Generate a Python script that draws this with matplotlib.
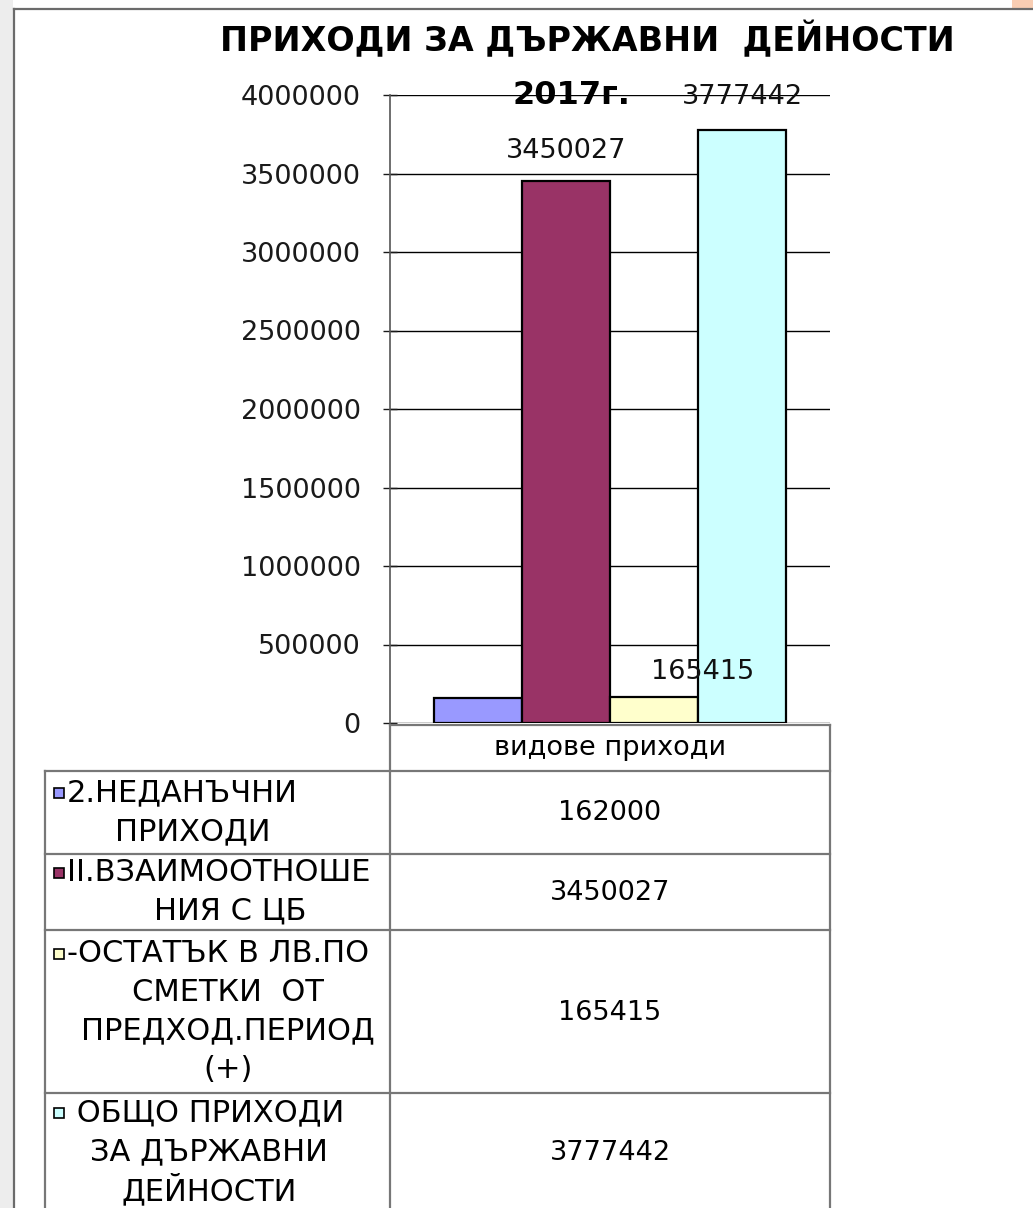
import matplotlib.pyplot as plt
from matplotlib.patches import Rectangle
from matplotlib.lines import Line2D

plt.rcParams['font.family'] = ['DejaVu Sans']

# data
category = 'видове приходи'
series_names = ['2.НЕДАНЪЧНИ\nПРИХОДИ',
                'II.ВЗАИМООТНОШЕ\nНИЯ С ЦБ',
                '-ОСТАТЪК В ЛВ.ПО\nСМЕТКИ  ОТ\nПРЕДХОД.ПЕРИОД\n(+)',
                ' ОБЩО ПРИХОДИ\nЗА ДЪРЖАВНИ\nДЕЙНОСТИ']
values = [162000, 3450027, 165415, 3777442]
colors = ['#9999FF', '#993366', '#FFFFCC', '#CCFFFF']
yticks = [0, 500000, 1000000, 1500000, 2000000, 2500000, 3000000, 3500000, 4000000]
title = 'ПРИХОДИ ЗА ДЪРЖАВНИ  ДЕЙНОСТИ'
subtitle = '2017г.'

W, H = 1033, 1208
fig = plt.figure(figsize=(W / 100, H / 100), dpi=100)


def fx(x):
    return x / W


def fy(y):
    return 1 - y / H


# slide background bits
fig.add_artist(Rectangle((0, 0), fx(13), 1, transform=fig.transFigure,
                         color='#ededed', lw=0))
fig.add_artist(Rectangle((fx(1012), fy(8)), fx(21), 8 / H, transform=fig.transFigure,
                         color='#f8cdb3', lw=0))
fig.add_artist(Line2D([fx(14), fx(14)], [0, fy(9)], transform=fig.transFigure,
                      color='#6b6b6b', lw=1.6))
fig.add_artist(Line2D([fx(14), 1], [fy(9), fy(9)], transform=fig.transFigure,
                      color='#6b6b6b', lw=1.6))

# chart
ax = fig.add_axes([fx(390), fy(723), fx(830) - fx(390), (723 - 95) / H])
n = len(values)
bw = 0.2
xs = [(i - (n - 1) / 2) * bw for i in range(n)]
ax.bar(xs, values, width=bw, color=colors, edgecolor='black', linewidth=1.6, zorder=3)
ax.set_xlim(-0.5, 0.5)
ax.set_ylim(0, 4000000)
ax.set_yticks(yticks)
ax.set_yticklabels([str(v) for v in yticks], fontsize=19.5)
ax.set_xticks([])
ax.yaxis.grid(True, color='black', lw=1.0, zorder=0)
ax.tick_params(axis='y', direction='inout', length=10, width=1.0, pad=16, colors='#1a1a1a')
for s in ['top', 'right', 'bottom']:
    ax.spines[s].set_visible(False)
ax.spines['left'].set_color('#555555')
ax.spines['left'].set_linewidth(1.2)

# data labels (the first one is hidden in the original)
offsets = {1: (0, 22), 2: (35, 18), 3: (0, 24)}
for i, (dx, dy) in offsets.items():
    ax.annotate(str(values[i]), (xs[i], values[i]), xytext=(dx, dy),
                textcoords='offset points', ha='center', va='center',
                fontsize=19.5, color='#111111', zorder=5, annotation_clip=False)

fig.text(fx(587), fy(40), title, ha='center', va='center', fontsize=24,
         fontweight='bold')
fig.text(fx(571), fy(96), subtitle, ha='center', va='center', fontsize=23,
         fontweight='bold')

# data table
grid_col = '#777777'
row_edges = [771, 854, 930, 1093, 1215]
left_x, mid_x, right_x = 45, 390, 830
wrap_centers = [193, 230, 228, 209]


def hline(y, x0, x1):
    fig.add_artist(Line2D([fx(x0), fx(x1)], [fy(y), fy(y)], transform=fig.transFigure,
                          color=grid_col, lw=1.6))


def vline(x, y0, y1):
    fig.add_artist(Line2D([fx(x), fx(x)], [fy(y0), fy(y1)], transform=fig.transFigure,
                          color=grid_col, lw=1.6))


hline(725, mid_x, right_x)
for y in row_edges[:-1]:
    hline(y, left_x, right_x)
vline(left_x, row_edges[0], row_edges[-1])
vline(mid_x, 725, row_edges[-1])
vline(right_x, 725, row_edges[-1])

fig.text(fx(610), fy(748), category, ha='center', va='center', fontsize=19.5)

line_step = 38.5
for i in range(n):
    top, bot = row_edges[i], row_edges[i + 1]
    if i == n - 1:
        bot = 1210
    cy = (top + bot) / 2
    lines = series_names[i].split('\n')
    y0 = cy - (len(lines) - 1) * line_step / 2
    for k, ln in enumerate(lines):
        y = y0 + k * line_step
        if k == 0:
            fig.add_artist(Rectangle((fx(54), fy(y) - 5 / H), 10 / W, 10 / H,
                                     transform=fig.transFigure, facecolor=colors[i],
                                     edgecolor='black', lw=1.2))
            fig.text(fx(67), fy(y), ln, ha='left', va='center', fontsize=22)
        else:
            fig.text(fx(wrap_centers[i]), fy(y), ln, ha='center', va='center', fontsize=22)
    fig.text(fx(610), fy(cy + 1), str(values[i]), ha='center', va='center', fontsize=19.5)

fig.savefig('out.png', dpi=100)
